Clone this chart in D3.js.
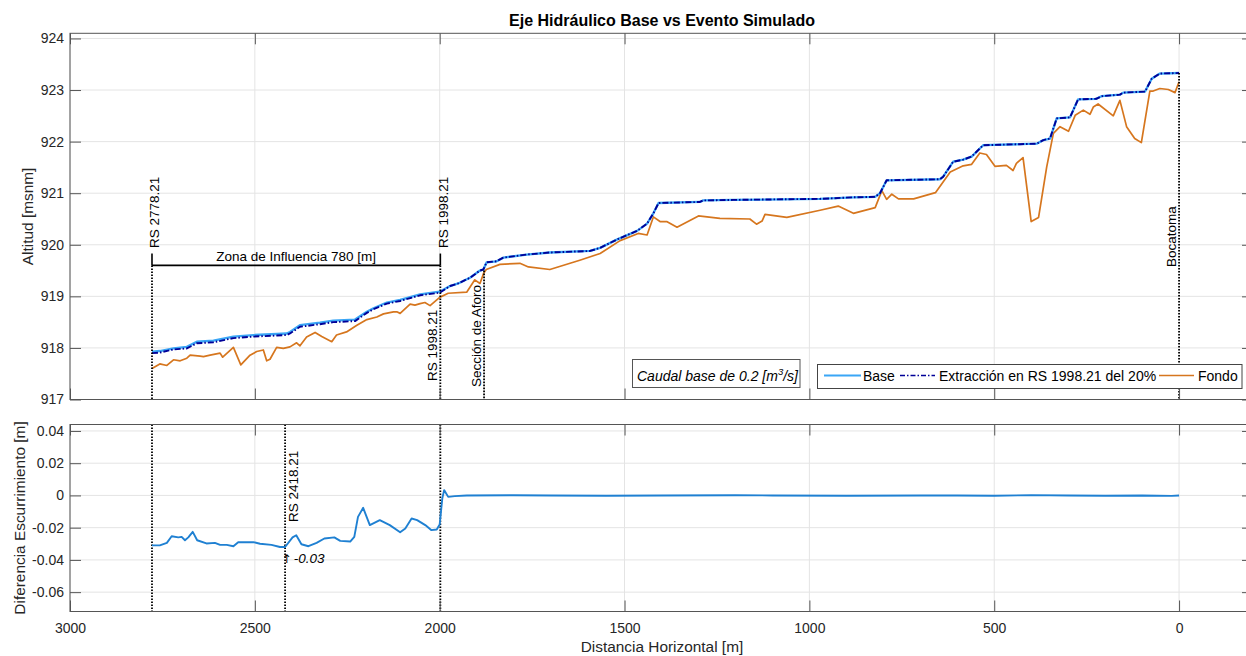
<!DOCTYPE html>
<html><head><meta charset="utf-8">
<script src="https://cdn.jsdelivr.net/npm/d3@7"></script>
<style>
body{margin:0;background:#fff;}
svg{display:block;font-family:"Liberation Sans",Arial,Helvetica,sans-serif;}
</style></head><body>
<svg id="c" width="1246" height="656"></svg>
<script>
// ---------------- data ----------------
const xTicks = [3000, 2500, 2000, 1500, 1000, 500, 0];
const topYTicks = [917, 918, 919, 920, 921, 922, 923, 924];
const botYTicks = [-0.06, -0.04, -0.02, 0, 0.02, 0.04];

const baseX = [2778.21,2757,2720,2684,2657,2612,2558,2504,2440,2414,2405,2378,2324,2288,2229,2197,2179,2143,2107,2053,2000,1972,1950,1918,1891,1882,1873,1846,1828,1765,1702,1593,1566,1521,1466,1439,1422,1408,1296,1287,1206,971,881,822,809,791,647,638,611,584,561,530,430,385,367,349,331,295,273,224,210,160,151,92,74,52,0];
const baseY = [917.93,917.94,917.99,918.02,918.12,918.14,918.22,918.25,918.27,918.28,918.31,918.44,918.49,918.53,918.55,918.70,918.77,918.88,918.93,919.04,919.09,919.20,919.25,919.36,919.50,919.52,919.66,919.68,919.75,919.81,919.85,919.88,919.94,920.10,920.27,920.41,920.61,920.81,920.83,920.86,920.87,920.89,920.92,920.93,921.00,921.25,921.27,921.32,921.61,921.65,921.71,921.93,921.95,921.96,922.03,922.06,922.45,922.47,922.82,922.83,922.88,922.91,922.95,922.97,923.22,923.32,923.33];

const extX = [2778.21,2757,2720,2684,2657,2612,2558,2504,2440,2414,2405,2378,2324,2288,2229,2197,2179,2143,2107,2053,2000,1972,1950,1918,1891,1882,1873,1846,1828,1765,1702,1593,1566,1521,1466,1439,1422,1408,1296,1287,1206,971,881,822,809,791,647,638,611,584,561,530,430,385,367,349,331,295,273,224,210,160,151,92,74,52,0];
const extY = [917.90,917.91,917.97,917.99,918.09,918.11,918.19,918.22,918.24,918.25,918.28,918.41,918.46,918.50,918.52,918.68,918.75,918.86,918.91,919.02,919.07,919.20,919.25,919.36,919.50,919.52,919.66,919.68,919.75,919.81,919.85,919.88,919.94,920.10,920.27,920.41,920.61,920.81,920.83,920.86,920.87,920.89,920.92,920.93,921.00,921.25,921.27,921.32,921.61,921.65,921.71,921.93,921.95,921.96,922.03,922.06,922.45,922.47,922.82,922.83,922.88,922.91,922.95,922.97,923.22,923.32,923.33];

const fondoX = [2778.21,2757,2738,2720,2702,2684,2675,2648,2639,2621,2594,2587,2558,2538,2513,2495,2477,2468,2459,2441,2423,2405,2387,2378,2360,2337,2319,2292,2279,2252,2224,2197,2170,2152,2125,2116,2107,2080,2067,2053,2040,2026,2000,1977,1927,1905,1891,1881,1874,1837,1783,1760,1702,1621,1566,1512,1463,1439,1422,1404,1386,1358,1300,1242,1161,1143,1128,1120,1061,971,922,881,822,804,791,777,759,718,659,619,584,561,539,521,498,467,449,440,422,400,380,358,340,322,299,281,259,241,232,219,178,160,142,120,102,79,70,52,29,11,0];
const fondoY = [917.60,917.69,917.66,917.77,917.75,917.80,917.86,917.84,917.83,917.86,917.90,917.82,918.01,917.67,917.86,917.93,917.96,917.75,917.78,918.01,917.99,918.02,918.10,918.04,918.21,918.30,918.22,918.12,918.25,918.31,918.44,918.55,918.60,918.66,918.70,918.70,918.67,918.85,918.83,918.86,918.88,918.82,918.98,919.06,919.08,919.32,919.25,919.45,919.52,919.62,919.64,919.57,919.52,919.70,919.83,920.08,920.22,920.19,920.54,920.45,920.45,920.34,920.56,920.51,920.50,920.40,920.46,920.59,920.53,920.67,920.75,920.61,920.72,921.05,920.88,920.98,920.89,920.89,921.01,921.41,921.53,921.56,921.78,921.75,921.52,921.54,921.44,921.58,921.69,920.45,920.53,921.51,922.16,922.29,922.20,922.51,922.61,922.53,922.67,922.73,922.50,922.80,922.29,922.06,921.98,922.98,922.98,923.03,923.01,922.95,923.16];

const diffX = [2778.21,2757,2738,2725,2707,2698,2689,2680,2668,2656,2631,2608,2594,2576,2558,2545,2504,2486,2455,2432,2418.21,2398,2388,2374,2355,2333,2312,2285,2269,2242,2231,2221,2207,2189,2162,2135,2107,2093,2076,2061,2039,2023,2008,2000,1993,1988,1977,1959,1927,1800,1700,1550,1400,1200,1100,900,700,600,500,400,300,200,100,20,0];
const diffY = [-0.031,-0.031,-0.0294,-0.0253,-0.026,-0.0257,-0.0278,-0.026,-0.0226,-0.0278,-0.0298,-0.0294,-0.0307,-0.0307,-0.0315,-0.029,-0.029,-0.030,-0.0307,-0.032,-0.032,-0.026,-0.0247,-0.0303,-0.0315,-0.0294,-0.0267,-0.026,-0.0282,-0.0286,-0.0257,-0.0133,-0.0077,-0.0184,-0.0153,-0.0184,-0.0228,-0.0205,-0.0143,-0.0153,-0.0184,-0.0215,-0.0211,-0.018,-0.002,0.0033,-0.0009,-0.0004,0,0.0001,0,-0.0002,0,0.0001,0,-0.0002,0,0,-0.0002,0.0002,0,-0.0002,0,-0.0003,0];

// annotation stations / levels
const topMarkX = [2778.21, 1998.21, 1880, 0];
const topMarkFrom = [919.6, 919.6, 919.5, 923.33];
const botMarkX = [2778.21, 2418.21, 1998.21];
const zoneFrom = 2778.21, zoneTo = 1998.21, zoneLevel = 919.6, zoneTickTop = 919.83;
const seriesNames = ["Base", "Extracción en RS 1998.21 del 20%", "Fondo"];

// ---------------- layout ----------------
const svg = d3.select("#c");
const L = 70, R = 1253;
const T1 = 33.3, B1 = 399.5, T2 = 424.5, B2 = 611.5;
const FS = 14;
const x = d3.scaleLinear().domain([3000, -200]).range([L, R]);
const y1 = d3.scaleLinear().domain([917, 924.1]).range([B1, T1]);
const y2 = d3.scaleLinear().domain([-0.072, 0.044]).range([B2, T2]);

const gridC = "#e4e4e4", axC = "#555", txtC = "#262626";
const cBase = "#3aa6f6", cExt = "#000098", cFondo = "#d6761e", cDiff = "#1f80d2";

function axesFrame(yS, yTicks, T, B) {
  const g = svg.append("g");
  g.selectAll(".gx").data(xTicks).join("line")
    .attr("x1", d => x(d)).attr("x2", d => x(d)).attr("y1", T).attr("y2", B)
    .attr("stroke", gridC).attr("stroke-width", 1);
  g.selectAll(".gy").data(yTicks).join("line")
    .attr("x1", L).attr("x2", R).attr("y1", d => yS(d)).attr("y2", d => yS(d))
    .attr("stroke", gridC).attr("stroke-width", 1);
  return g;
}
function axesTicks(yS, yTicks, T, B, showX, yFmt) {
  const g = svg.append("g");
  const ab = g.append("g").attr("transform", `translate(0,${B})`)
    .call(d3.axisBottom(x).tickValues(xTicks).tickSize(-11).tickPadding(11.5)
      .tickFormat(showX ? d3.format("d") : () => ""));
  const at = g.append("g").attr("transform", `translate(0,${T})`)
    .call(d3.axisTop(x).tickValues(xTicks).tickSize(-11).tickFormat(() => ""));
  const al = g.append("g").attr("transform", `translate(${L},0)`)
    .call(d3.axisLeft(yS).tickValues(yTicks).tickSize(-11).tickPadding(6).tickFormat(yFmt));
  const ar = g.append("g").attr("transform", `translate(${R},0)`)
    .call(d3.axisRight(yS).tickValues(yTicks).tickSize(-11).tickFormat(() => ""));
  [ab, at, al, ar].forEach(a => {
    a.select(".domain").remove();
    a.selectAll(".tick line").attr("stroke", axC).attr("stroke-width", 1);
    a.selectAll(".tick text").attr("fill", txtC).attr("font-size", FS)
      .attr("font-family", '"Liberation Sans",Arial,sans-serif');
  });
  g.append("rect").attr("x", L).attr("y", T).attr("width", R - L).attr("height", B - T)
    .attr("fill", "none").attr("stroke", axC).attr("stroke-width", 1);
}

function dotted(g, xv, ya, yb) {
  g.append("line").attr("x1", x(xv)).attr("x2", x(xv)).attr("y1", ya).attr("y2", yb)
    .attr("stroke", "#000").attr("stroke-width", 1.8).attr("stroke-dasharray", "1.6,1.4");
}
function vtext(g, px, py, s, size) {
  g.append("text").attr("transform", `translate(${px},${py}) rotate(-90)`)
    .attr("font-size", size || 13.5).attr("fill", "#000").text(s);
}

// ---------------- top axes ----------------
axesFrame(y1, topYTicks, T1, B1);
const gTop = svg.append("g");
const line1 = (xs, ys) => d3.line().x((d, i) => x(xs[i])).y((d, i) => y1(ys[i]))(xs);

gTop.append("path").attr("d", line1(fondoX, fondoY)).attr("fill", "none")
  .attr("stroke", cFondo).attr("stroke-width", 1.7).attr("stroke-linejoin", "round");
gTop.append("path").attr("d", line1(baseX, baseY)).attr("fill", "none")
  .attr("stroke", cBase).attr("stroke-width", 2.3).attr("stroke-linejoin", "round");
gTop.append("path").attr("d", line1(extX, extY)).attr("fill", "none")
  .attr("stroke", cExt).attr("stroke-width", 1.9).attr("stroke-dasharray", "6,2,1.5,2")
  .attr("stroke-linejoin", "round");

const gAnn = svg.append("g");
topMarkX.forEach((v, i) => dotted(gAnn, v, y1(topMarkFrom[i]), B1));
gAnn.append("line").attr("x1", x(zoneFrom)).attr("x2", x(zoneTo))
  .attr("y1", y1(zoneLevel)).attr("y2", y1(zoneLevel)).attr("stroke", "#000").attr("stroke-width", 1.6);
[zoneFrom, zoneTo].forEach(v => gAnn.append("line").attr("x1", x(v)).attr("x2", x(v))
  .attr("y1", y1(zoneTickTop)).attr("y2", y1(zoneLevel)).attr("stroke", "#000").attr("stroke-width", 1.6));
gAnn.append("text").attr("x", (x(zoneFrom) + x(zoneTo)) / 2).attr("y", y1(zoneLevel) - 4)
  .attr("text-anchor", "middle").attr("font-size", 13.5).attr("fill", "#000")
  .text("Zona de Influencia " + Math.round(zoneFrom - zoneTo) + " [m]");
vtext(gAnn, x(2778.21) + 7.5, 248, "RS 2778.21");
vtext(gAnn, x(1998.21) + 7.5, 248, "RS 1998.21");
vtext(gAnn, x(1998.21) - 3, 381, "RS 1998.21");
vtext(gAnn, x(1880) - 3.5, 387, "Sección de Aforo");
vtext(gAnn, x(0) - 3.5, 267, "Bocatoma");

axesTicks(y1, topYTicks, T1, B1, false, d3.format("d"));

// caudal box
const gBox = svg.append("g");
gBox.append("rect").attr("x", 632.5).attr("y", 359.5).attr("width", 167.5).attr("height", 28)
  .attr("fill", "#fff").attr("stroke", "#555").attr("stroke-width", 1);
const ct = gBox.append("text").attr("x", 637).attr("y", 381).attr("font-size", FS)
  .attr("font-style", "italic").attr("fill", "#000");
ct.append("tspan").text("Caudal base de 0.2 [m");
ct.append("tspan").attr("font-size", 9.5).attr("dy", -6).text("3");
ct.append("tspan").attr("dy", 6).text("/s]");

// legend
const gLeg = svg.append("g");
gLeg.append("rect").attr("x", 817.5).attr("y", 364.5).attr("width", 424.5).attr("height", 24)
  .attr("fill", "#fff").attr("stroke", "#444").attr("stroke-width", 1);
const legItems = [
  {x0: 824, x1: 861, tx: 863, c: cBase, w: 2, dash: null},
  {x0: 900, x1: 935, tx: 939, c: cExt, w: 1.7, dash: "5,2,1.5,2"},
  {x0: 1159, x1: 1194, tx: 1198, c: cFondo, w: 1.7, dash: null}
];
legItems.forEach((it, i) => {
  gLeg.append("line").attr("x1", it.x0).attr("x2", it.x1).attr("y1", 375.5).attr("y2", 375.5)
    .attr("stroke", it.c).attr("stroke-width", it.w).attr("stroke-dasharray", it.dash);
  gLeg.append("text").attr("x", it.tx).attr("y", 381).attr("font-size", FS).attr("fill", "#000")
    .text(seriesNames[i]);
});

// ---------------- bottom axes ----------------
axesFrame(y2, botYTicks, T2, B2);
const gBot = svg.append("g");
botMarkX.forEach(v => dotted(gBot, v, T2, B2));
gBot.append("path").attr("d", d3.line().x((d, i) => x(diffX[i])).y((d, i) => y2(diffY[i]))(diffX))
  .attr("fill", "none").attr("stroke", cDiff).attr("stroke-width", 1.9).attr("stroke-linejoin", "round");
vtext(gBot, x(2418.21) + 12.5, 522, "RS 2418.21");
const at = gBot.append("text").attr("x", x(2418.21) - 3.5).attr("y", 563).attr("font-size", 13.5)
  .attr("font-style", "italic").attr("fill", "#000");
at.append("tspan").attr("font-family", '"DejaVu Sans",sans-serif').attr("font-style", "normal")
  .attr("font-size", 12).text("\u2191");
at.append("tspan").attr("dx", 2).text("-0.03");
axesTicks(y2, botYTicks, T2, B2, true, d => d === 0 ? "0" : d.toFixed(2));

// ---------------- titles & labels ----------------
svg.append("text").attr("x", 662).attr("y", 26).attr("text-anchor", "middle")
  .attr("font-size", 16).attr("font-weight", "bold").attr("fill", "#000")
  .text("Eje Hidráulico Base vs Evento Simulado");
svg.append("text").attr("transform", `translate(33,${(T1 + B1) / 2}) rotate(-90)`)
  .attr("text-anchor", "middle").attr("font-size", 15.4).attr("fill", txtC).text("Altitud [msnm]");
svg.append("text").attr("transform", `translate(25,${(T2 + B2) / 2}) rotate(-90)`)
  .attr("text-anchor", "middle").attr("font-size", 15.4).attr("fill", txtC).text("Diferencia Escurrimiento [m]");
svg.append("text").attr("x", 662).attr("y", 652).attr("text-anchor", "middle")
  .attr("font-size", 15.4).attr("fill", txtC).text("Distancia Horizontal [m]");
</script>
</body></html>
